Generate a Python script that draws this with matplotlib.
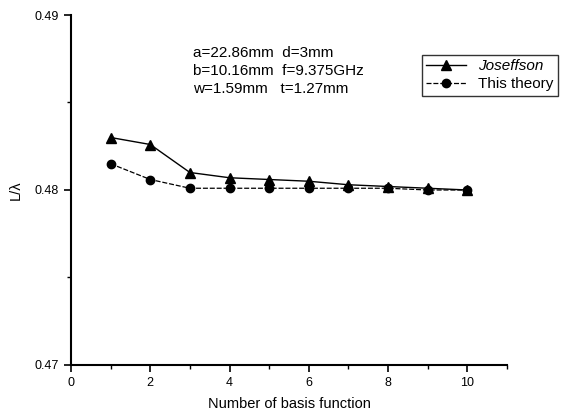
import matplotlib
matplotlib.use("Agg")
from matplotlib import pyplot
from matplotlib.ticker import MultipleLocator, FormatStrFormatter

pyplot.rcParams['font.family'] = ['Liberation Sans', 'DejaVu Sans']

basis_n = [1, 2, 3, 4, 5, 6, 7, 8, 9, 10]
joseffson = [0.4830, 0.4826, 0.4810, 0.4807, 0.4806, 0.4805, 0.4803, 0.4802, 0.4801, 0.4800]
this_theory = [0.4815, 0.4806, 0.4801, 0.4801, 0.4801, 0.4801, 0.4801, 0.4801, 0.4800, 0.4800]

params_text = "a=22.86mm  d=3mm\nb=10.16mm  f=9.375GHz\nw=1.59mm   t=1.27mm"


def main() -> None:
    fig = pyplot.figure(figsize=(5.62, 4.17), dpi=100)
    ax = fig.add_axes([71 / 562, 1 - 365 / 417, (507 - 71) / 562, (365 - 15) / 417])

    ax.plot(basis_n, this_theory, color="black", linestyle=(0, (4, 1.5)), linewidth=0.9,
            marker="o", markersize=6, label="This theory")
    ax.plot(basis_n, joseffson, color="black", linestyle="-", linewidth=1.0,
            marker="^", markersize=7, label="Joseffson")

    ax.set_xlim(0, 11)
    ax.set_ylim(0.47, 0.49)
    ax.xaxis.set_major_locator(MultipleLocator(2))
    ax.xaxis.set_minor_locator(MultipleLocator(1))
    ax.yaxis.set_major_locator(MultipleLocator(0.01))
    ax.yaxis.set_minor_locator(MultipleLocator(0.005))
    ax.yaxis.set_major_formatter(FormatStrFormatter("%.2f"))

    for s in ["top", "right"]:
        ax.spines[s].set_visible(False)
    for s in ["left", "bottom"]:
        ax.spines[s].set_linewidth(1.5)
    ax.tick_params(which="major", direction="out", length=5, width=1.2, labelsize=9)
    ax.tick_params(which="minor", direction="out", length=3, width=1.0)

    ax.set_xlabel("Number of basis function", fontsize=10.5, labelpad=6)
    ax.set_ylabel("L/λ", fontsize=10.5, labelpad=9)

    fig.text(193 / 562, 1 - 46 / 417, params_text, fontsize=11, va="top", ha="left",
             linespacing=1.35)

    handles, labels = ax.get_legend_handles_labels()
    leg = fig.legend(handles[::-1], labels[::-1], loc="upper left",
                     bbox_to_anchor=(414 / 562, 1 - 47 / 417), fontsize=11,
                     frameon=True, fancybox=False, edgecolor="black",
                     handlelength=2.6, borderpad=0.3, labelspacing=0.25)
    leg.get_frame().set_linewidth(1.0)
    leg.get_texts()[0].set_fontstyle("italic")

    pyplot.savefig("out.png", dpi=100)


if __name__ == "__main__":
    main()
